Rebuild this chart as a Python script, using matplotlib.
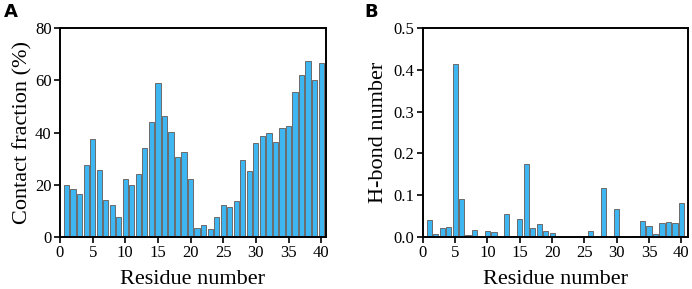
import numpy as np
import matplotlib
matplotlib.use("Agg")
import matplotlib.pyplot as plt

residues = np.arange(1, 41)

contact = [20, 18.2, 16.4, 27.4, 37.4, 25.5, 14.2, 12.3, 7.8, 22.3,
           20, 24, 33.9, 44, 59, 46.3, 40.3, 30.6, 32.4, 22.1,
           3.6, 4.7, 3.2, 7.6, 12.4, 11.3, 13.8, 29.4, 25.1, 35.8,
           38.5, 39.7, 36.2, 41.6, 42.3, 55.4, 62, 67.2, 60, 66.8]

hbond = [0.041, 0.007, 0.021, 0.023, 0.414, 0.091, 0.004, 0.016, 0.0, 0.014,
         0.013, 0.0, 0.055, 0.002, 0.042, 0.175, 0.022, 0.030, 0.014, 0.010,
         0.0, 0.0, 0.0, 0.0, 0.0, 0.014, 0.001, 0.117, 0.0, 0.067,
         0.0, 0.0, 0.002, 0.038, 0.026, 0.008, 0.034, 0.036, 0.033, 0.082]

plt.rcParams['font.family'] = ['Liberation Serif', 'DejaVu Serif']

bar_color = "#3db6f2"
edge_color = "#6a6a6a"

fig = plt.figure(figsize=(6.92, 2.89), dpi=100)
axA = fig.add_axes([0.0867, 0.180, 0.384, 0.723])
axB = fig.add_axes([0.611, 0.180, 0.383, 0.723])

def style(ax):
    for s in ax.spines.values():
        s.set_linewidth(1.4)
    ax.tick_params(direction="out", length=4, width=1.2, labelsize=12,
                   top=False, right=False, pad=2)
    ax.set_xticks([0, 5, 10, 15, 20, 25, 30, 35, 40])
    ax.set_xlabel("Residue number", fontsize=16, labelpad=6)

axA.bar(residues, contact, width=0.8, color=bar_color, edgecolor=edge_color, linewidth=0.7)
axA.set_xlim(0, 40.7)
axA.set_ylim(0, 80)
axA.set_yticks([0, 20, 40, 60, 80])
axA.set_ylabel("Contact fraction (%)", fontsize=16, labelpad=2)
style(axA)

axB.bar(residues, hbond, width=0.8, color=bar_color, edgecolor=edge_color, linewidth=0.7)
axB.set_xlim(0, 41)
axB.set_ylim(0, 0.5)
axB.set_yticks([0.0, 0.1, 0.2, 0.3, 0.4, 0.5])
axB.set_yticklabels(["0.0", "0.1", "0.2", "0.3", "0.4", "0.5"])
axB.set_ylabel("H-bond number", fontsize=16, labelpad=4)
style(axB)

fig.text(0.006, 0.99, "A", fontsize=13, fontweight="bold", family="DejaVu Sans", va="top")
fig.text(0.527, 0.99, "B", fontsize=13, fontweight="bold", family="DejaVu Sans", va="top")

fig.savefig("out.png", dpi=100)
